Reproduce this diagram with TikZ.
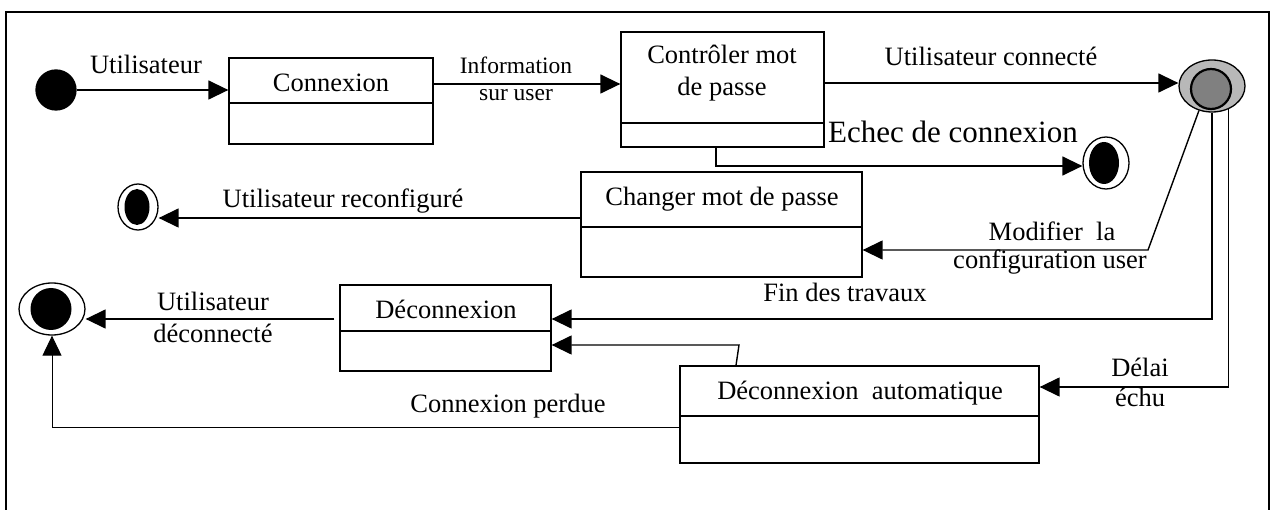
\documentclass[tikz,border=0pt]{standalone}
\usepackage{fontspec}
\setmainfont{Liberation Serif}
\usetikzlibrary{arrows.meta,calc,shapes.geometric}
\begin{document}
\begin{tikzpicture}[x=1pt,y=-1pt,line width=1.3pt,
  txt/.style={font=\fontsize{26.5}{32}\selectfont, inner sep=0pt, text height=18pt, text depth=0pt},
  smalltxt/.style={font=\fontsize{23.5}{28}\selectfont, inner sep=0pt, text height=16pt, text depth=0pt},
  bigtxt/.style={font=\fontsize{31}{36}\selectfont, inner sep=0pt, text height=21pt, text depth=0pt},
  statebox/.style={draw, rectangle, inner sep=0pt, line width=1.3pt},
  arr/.style={-{Triangle[length=20pt,width=19pt]}, line width=1.4pt},
  thinarr/.style={-{Triangle[length=20pt,width=19pt]}, line width=1pt},
  oval/.style={draw, ellipse, inner sep=0pt, line width=1.3pt},
  startdot/.style={circle, fill=black, draw, inner sep=0pt, minimum size=40pt},
  enddot/.style={ellipse, fill=black, inner sep=0pt}
]
\useasboundingbox (0,0) rectangle (1276,510);

% frame
\draw[line width=1.5pt] (6,510) -- (6,12) -- (1269,12) -- (1269,510);

% states (boxes with an empty lower compartment)
\node[statebox, minimum width=204pt, minimum height=86pt] (cnx) at (331,101) {};
\draw (cnx.west |- 0,103) -- (cnx.east |- 0,103);
\node[txt] (cnxT) at (331,83) {Connexion};

\node[statebox, minimum width=203pt, minimum height=115pt] (ctl) at (722.5,89.5) {};
\draw (ctl.west |- 0,123) -- (ctl.east |- 0,123);
\node[txt] (ctlT1) at (722,55) {Contrôler mot};
\node[txt] (ctlT2) at (722,87) {de passe};

\node[statebox, minimum width=281pt, minimum height=105pt] (chg) at (721.5,224.5) {};
\draw (chg.west |- 0,227) -- (chg.east |- 0,227);
\node[txt] (chgT) at (722,197) {Changer mot de passe};

\node[statebox, minimum width=211pt, minimum height=86pt] (dec) at (445.5,328) {};
\draw (dec.west |- 0,331) -- (dec.east |- 0,331);
\node[txt] (decT) at (446,310) {Déconnexion};

\node[statebox, minimum width=359pt, minimum height=97pt] (auto) at (859.5,414.5) {};
\draw (auto.west |- 0,416) -- (auto.east |- 0,416);
\node[txt] (autoT) at (860,390) {Déconnexion\ \ automatique};

% initial and final states
\node[startdot] (init) at (56,90) {};

\node[oval, minimum width=40pt, minimum height=46pt] (endR) at (138,207) {};
\node[enddot, minimum width=25pt, minimum height=36pt] (endRin) at (137,207) {};

\node[oval, minimum width=46pt, minimum height=52pt] (echec) at (1106,163) {};
\node[enddot, minimum width=30pt, minimum height=42pt] (echecin) at (1104,163) {};

\node[oval, fill=black!28, minimum width=66pt, minimum height=52pt] (conn) at (1212,86) {};
\node[circle, draw, line width=2.2pt, fill=black!50, inner sep=0pt, minimum size=40pt] (connin) at (1211,89) {};

\node[oval, minimum width=66pt, minimum height=52pt] (endD) at (52,309) {};
\node[enddot, minimum width=41pt, minimum height=42pt] (endDin) at (51,309) {};

% transitions
\draw[arr] (init) -- (init -| cnx.west);
\node[txt] (lUser) at (146,65) {Utilisateur};

\draw[arr] (cnx.east |- 0,84) -- (ctl.west |- 0,84);
\node[smalltxt] (lInfo1) at (516,66) {Information};
\node[smalltxt] (lInfo2) at (516,93) {sur user};

\draw[arr] (ctl.east |- 0,83) -- (conn.west |- 0,83);
\node[txt] (lConn) at (991,57) {Utilisateur connecté};

\draw[arr] (ctl.south -| 716,0) |- (echec.west |- 0,166);
\node[bigtxt] (lEchec) at (953,132) {Echec de connexion};

\draw[arr] (chg.west |- 0,218) -- (endR.east |- 0,218);
\node[txt] (lReconf) at (343,199) {Utilisateur reconfiguré};

\coordinate (mbend) at (1148,250);
\draw[arr] (conn.-118) -- (mbend) -- (chg.east |- 0,250);
\node[txt] (lMod1) at (1052,232) {Modifier\ \ la};
\node[txt] (lMod2) at (1050,260) {configuration user};

\draw[arr] (conn.south) |- (dec.east |- 0,319);
\node[txt] (lFin) at (845,293) {Fin des travaux};

\draw[arr] (conn.-55) |- (auto.east |- 0,387);
\node[txt] (lDelai1) at (1140,367) {Délai};
\node[txt] (lDelai2) at (1140,397) {échu};

\coordinate (abend) at (739,345);
\draw[arr] (auto.north -| 736,0) -- (abend) -- (dec.east |- 0,345);

\draw[arr, shorten <=5pt] (dec.west |- 0,319) -- (endD.east |- 0,319);
\node[txt] (lDec1) at (213,302) {Utilisateur};
\node[txt] (lDec2) at (213,333) {déconnecté};

\draw[thinarr] (auto.west |- 0,427) -| (endD.south);
\node[txt] (lPerdue) at (508,403) {Connexion perdue};
\end{tikzpicture}
\end{document}
